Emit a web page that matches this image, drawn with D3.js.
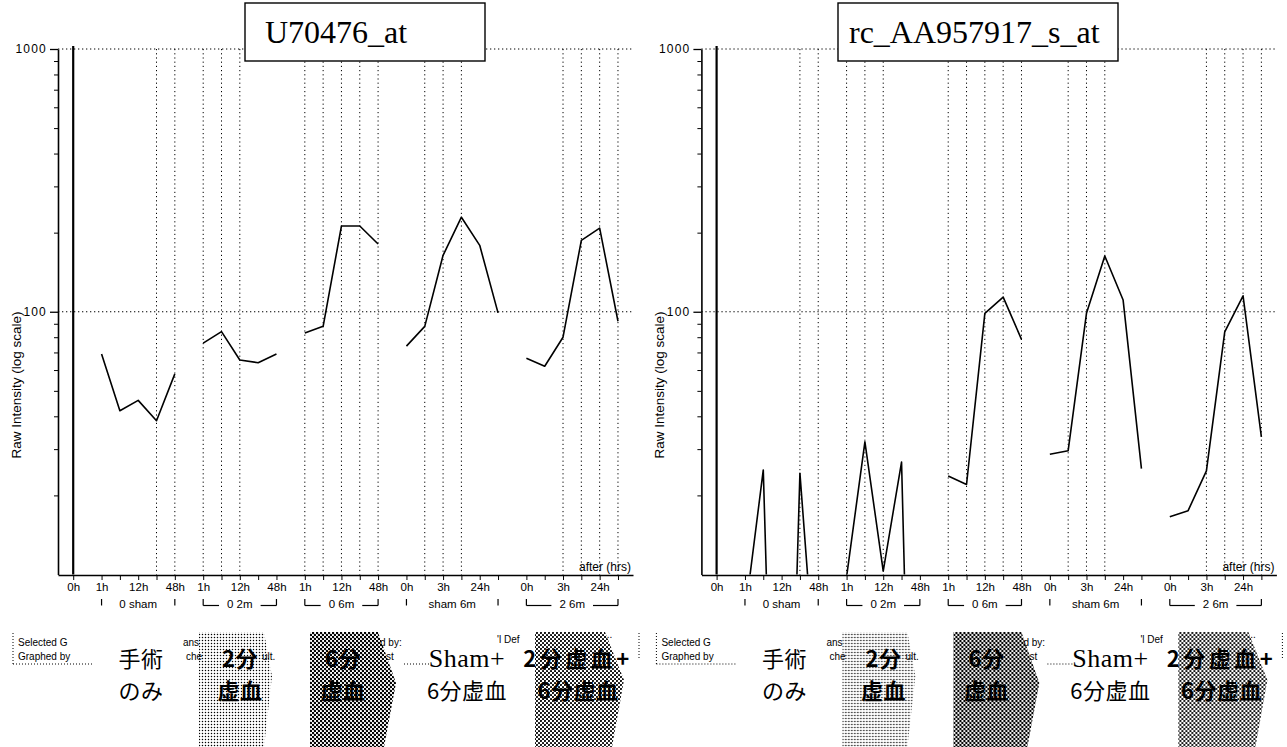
<!DOCTYPE html>
<html><head><meta charset="utf-8">
<script src="https://cdn.jsdelivr.net/npm/d3@7"></script>
<style>body{margin:0;background:#fff}svg{display:block}</style>
</head><body>
<svg id="chart" width="1287" height="747"></svg>
<script>
// ---------------- data ----------------
const groupNames = ["0 sham", "0 2m", "0 6m", "sham 6m", "2 6m"];
const baseLabel = "0h";
const tickLabels = [
  ["1h", "", "12h", "", "48h"],
  ["1h", "", "12h", "", "48h"],
  ["1h", "", "12h", "", "48h"],
  ["0h", "", "3h", "", "24h", ""],
  ["0h", "", "3h", "", "24h", ""]
];
const titleLeft = "U70476_at";
const titleRight = "rc_AA957917_s_at";
const valuesLeft = [
  [69, 42, 46, 38.5, 58],
  [76, 84, 65.5, 64, 69],
  [83, 88, 212, 212, 181],
  [74, 88, 164, 229, 179, 99],
  [66.5, 62, 80, 187, 208, 92]
];
const valuesRight = [
  [7, 25, 0.1, 24.3, 2.9],
  [9.8, 32, 10.3, 26.8, 0.05],
  [23.7, 22, 98.6, 113.7, 78.5],
  [28.7, 29.6, 98.6, 163, 110.8, 25.3],
  [16.6, 17.5, 24.8, 83.9, 115, 33.4]
];
const gridLeft = [[3, 4], [0, 1, 2], [0, 1, 2, 3, 4], [1, 2, 3], [2, 3, 4, 5]];
const gridRight = [[3, 4], [0, 1, 2], [0, 1, 2, 3, 4], [1, 2, 3], [2, 3, 4, 5]];
const yTickValues = [1000, 100];
const yMinorTicks = [20, 30, 40, 50, 60, 70, 80, 90, 200, 300, 400, 500, 600, 700, 800, 900];
const yLabel = "Raw Intensity (log scale)";
const xNote = "after (hrs)";
const legendTexts = ["Selected G", "Graphed by", "ans", "che", "ult.", "d by:", "st", "'l Def", "..."];
const jpLabels = [["手術", "のみ"], ["2分", "虚血"], ["6分", "虚血"], ["Sham+", "6分虚血"], ["2分虚血+", "6分虚血"]];

// ---------------- layout ----------------
const svg = d3.select("#chart");
const panelDx = [0, 643.4];
const gapSlots = 0.548;
const slots = [];
{ let count = 1; tickLabels.forEach((arr, gi) => { slots.push(arr.map((_, si) => count + gapSlots * (gi + 1) + si)); count += arr.length; }); }
const x = d3.scaleLinear().domain([-0.83, 30.56]).range([58, 633]);
const y = d3.scaleLog().domain([10, 1000]).range([574.5, 49]);
const titleBoxes = [{ x: 245, w: 240, tx: 265 }, { x: 838 - 643.4, w: 280, tx: 849 - 643.4 }];
const bracketLines = [false, true, true, false, true];
const legendPos = [[18, 646], [18, 660], [183, 646], [186, 660], [262, 660], [380, 646], [386, 660], [497, 643], [604, 638]];
const stipples = [
  { pts: [[199, 632], [264, 632], [272, 676], [264, 747], [199, 747]], pat: "light" },
  { pts: [[310, 632], [378, 632], [396, 683], [384, 747], [310, 747]], pat: "dark" },
  { pts: [[535, 632], [605, 632], [624, 680], [612, 747], [535, 747]], pat: "mid" }
];
const jpPos = [
  { x: 141, bold: false },
  { x: 240, bold: true },
  { x: 343, bold: true },
  { x: 467, bold: false },
  { x: 578, bold: true }
];

// patterns
const defs = svg.append("defs");
function addPattern(id, size, r, offs) {
  const p = defs.append("pattern").attr("id", id).attr("width", size).attr("height", size).attr("patternUnits", "userSpaceOnUse");
  offs.forEach(o => p.append("circle").attr("cx", o[0]).attr("cy", o[1]).attr("r", r).attr("fill", "#000"));
}
addPattern("light", 3, 0.72, [[1.5, 1.5]]);
addPattern("dark", 4, 1.25, [[1, 1], [3, 3]]);
addPattern("mid", 4, 1.05, [[1, 1], [3, 3]]);

svg.append("rect").attr("width", 1287).attr("height", 747).attr("fill", "#fff");

function drawPanel(pi, values, grid, title) {
  const dx = panelDx[pi];
  const g = svg.append("g").attr("transform", `translate(${dx},0)`);
  const [x0, x1] = x.range();
  const yTop = y(1000), yBot = y(10);
  const clipId = "clip" + pi;
  defs.append("clipPath").attr("id", clipId).append("rect")
    .attr("x", x0).attr("y", yTop).attr("width", x1 - x0).attr("height", yBot - yTop);

  // horizontal dotted gridlines
  g.selectAll(".hg").data(yTickValues).join("line")
    .attr("x1", x0).attr("x2", x1).attr("y1", d => y(d)).attr("y2", d => y(d))
    .attr("stroke", "#000").attr("stroke-width", 1).attr("stroke-dasharray", "1.3,2.7");

  // vertical dotted gridlines
  const vg = [];
  grid.forEach((arr, gi) => arr.forEach(si => vg.push(slots[gi][si])));
  g.selectAll(".vg").data(vg).join("line")
    .attr("x1", d => x(d)).attr("x2", d => x(d)).attr("y1", yTop).attr("y2", yBot)
    .attr("stroke", "#000").attr("stroke-width", 1).attr("stroke-dasharray", "1.2,3");

  // baseline sample line (0h)
  g.append("line").attr("x1", x(0)).attr("x2", x(0)).attr("y1", yTop - 3).attr("y2", yBot)
    .attr("stroke", "#000").attr("stroke-width", 2.2);

  // data lines
  const line = d3.line().x(d => x(d[0])).y(d => y(d[1]));
  g.append("g").attr("clip-path", `url(#${clipId})`)
    .selectAll("path").data(values.map((arr, gi) => arr.map((v, si) => [slots[gi][si], v]))).join("path")
    .attr("d", line).attr("fill", "none").attr("stroke", "#000").attr("stroke-width", 1.6)
    .attr("stroke-linejoin", "round");

  // y axis
  const ya = g.append("g").attr("transform", `translate(${x0},0)`)
    .call(d3.axisLeft(y).tickValues(yTickValues).tickSize(8).tickSizeOuter(0).tickPadding(3).tickFormat(d3.format("d")));
  ya.select(".domain").attr("stroke-width", 1.6);
  ya.selectAll(".tick line").attr("stroke-width", 1.3);
  ya.selectAll("text").attr("font-family", "Liberation Sans, Arial, sans-serif").attr("font-size", 12)
    .attr("letter-spacing", 1.2).attr("fill", "#000");
  g.append("g").attr("transform", `translate(${x0},0)`)
    .call(d3.axisLeft(y).tickValues(yMinorTicks).tickSize(4).tickFormat(""))
    .call(s => s.select(".domain").remove());

  // x axis
  const allSlots = [0, ...slots.flat()];
  const allLabels = [baseLabel, ...tickLabels.flat()];
  const xa = g.append("g").attr("transform", `translate(0,${yBot + 0.5})`)
    .call(d3.axisBottom(x).tickValues(allSlots).tickSize(5).tickSizeOuter(0).tickPadding(3)
      .tickFormat((d, i) => allLabels[i]));
  xa.select(".domain").attr("stroke-width", 1.6);
  xa.selectAll("text").attr("font-family", "Liberation Sans, Arial, sans-serif").attr("font-size", 11.5).attr("fill", "#000");

  // group labels with brackets
  groupNames.forEach((name, gi) => {
    const xs = x(slots[gi][0]), xe = x(slots[gi][slots[gi].length - 1]);
    const xm = (xs + xe) / 2;
    const t = g.append("text").attr("x", xm).attr("y", 608).attr("text-anchor", "middle")
      .attr("font-family", "Liberation Sans, Arial, sans-serif").attr("font-size", 11.5).text(name);
    const tw = t.node().getComputedTextLength();
    const bl = 605.5;
    g.append("line").attr("x1", xs).attr("x2", xs).attr("y1", 599).attr("y2", bl).attr("stroke", "#000").attr("stroke-width", 1.2);
    g.append("line").attr("x1", xe).attr("x2", xe).attr("y1", 599).attr("y2", bl).attr("stroke", "#000").attr("stroke-width", 1.2);
    if (bracketLines[gi]) {
      g.append("line").attr("x1", xs).attr("x2", xm - tw / 2 - 8).attr("y1", bl).attr("y2", bl).attr("stroke", "#000").attr("stroke-width", 1.2);
      g.append("line").attr("x1", xm + tw / 2 + 8).attr("x2", xe).attr("y1", bl).attr("y2", bl).attr("stroke", "#000").attr("stroke-width", 1.2);
    }
  });

  // note
  g.append("text").attr("x", 631).attr("y", 571).attr("text-anchor", "end")
    .attr("font-family", "Liberation Sans, Arial, sans-serif").attr("font-size", 12).text(xNote);

  // y label
  g.append("text").attr("transform", `translate(21,385) rotate(-90)`).attr("text-anchor", "middle")
    .attr("font-family", "Liberation Sans, Arial, sans-serif").attr("font-size", 13.5).text(yLabel);

  // title box
  const tb = titleBoxes[pi];
  g.append("rect").attr("x", tb.x).attr("y", 3).attr("width", tb.w).attr("height", 58)
    .attr("fill", "#fff").attr("stroke", "#000").attr("stroke-width", 1.4);
  g.append("text").attr("x", tb.tx).attr("y", 43).attr("font-family", "Liberation Serif, Times New Roman, serif")
    .attr("font-size", 32).attr("fill", "#000").text(title);

  // legend box fragments
  const seg = (a, b, c, d) => g.append("line").attr("x1", a).attr("y1", b).attr("x2", c).attr("y2", d)
    .attr("stroke", "#000").attr("stroke-width", 1).attr("stroke-dasharray", "1,2");
  seg(13, 633, 13, 664); seg(13, 664, 92, 664); seg(404, 664, 430, 664); seg(639, 633, 639, 660);
  legendTexts.forEach((s, i) => g.append("text").attr("x", legendPos[i][0]).attr("y", legendPos[i][1])
    .attr("font-family", "Liberation Sans, Arial, sans-serif").attr("font-size", 10).attr("fill", "#000").text(s));

  // stipple shapes
  stipples.forEach(s => g.append("path").attr("d", d3.line()(s.pts) + "Z").attr("fill", `url(#${s.pat})`));

  // japanese labels (two lines each)
  jpLabels.forEach((pair, i) => {
    const t = g.append("text").attr("text-anchor", "middle").attr("fill", "#000")
      .attr("font-weight", jpPos[i].bold ? 700 : 400);
    pair.forEach((s, r) => {
      const isLatin = /^[A-Za-z]/.test(s);
      t.append("tspan").attr("x", jpPos[i].x).attr("y", r === 0 ? 667 : 699)
        .attr("font-family", isLatin ? "Liberation Serif, serif" : "Noto Sans CJK JP, sans-serif")
        .attr("font-size", isLatin ? 26 : 22)
        .attr("letter-spacing", s.endsWith("+") && !isLatin ? 3.5 : 0.5)
        .text(s);
    });
  });
}

drawPanel(0, valuesLeft, gridLeft, titleLeft);
drawPanel(1, valuesRight, gridRight, titleRight);
</script>
</body></html>
